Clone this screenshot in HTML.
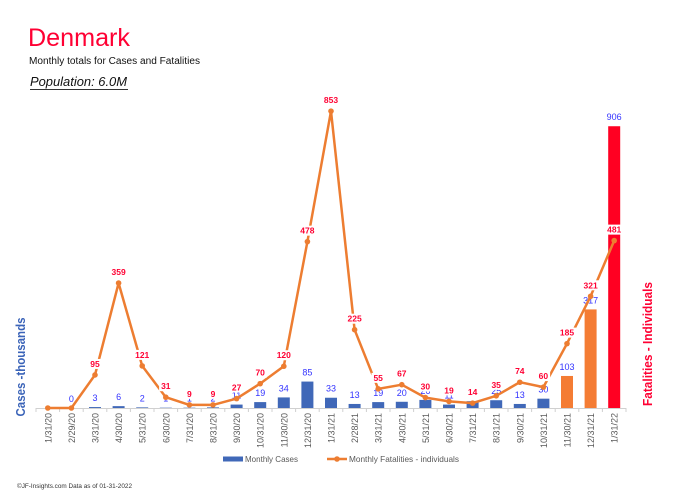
<!DOCTYPE html>
<html><head><meta charset="utf-8"><style>
html,body{margin:0;padding:0;background:#fff;}
svg{display:block;font-family:"Liberation Sans",sans-serif;}
</style></head><body>
<svg width="684" height="496" viewBox="0 0 684 496" xmlns="http://www.w3.org/2000/svg">
<rect width="684" height="496" fill="#fff"/>
<text x="28" y="46" font-size="25" fill="#FF0033" textLength="102" lengthAdjust="spacingAndGlyphs">Denmark</text>
<text x="29" y="64" font-size="10" fill="#111" textLength="171" lengthAdjust="spacingAndGlyphs">Monthly totals for Cases and Fatalities</text>
<text x="30" y="86" font-size="12.5" font-style="italic" fill="#111" textLength="97" lengthAdjust="spacingAndGlyphs">Population: 6.0M</text>
<line x1="30" y1="89.5" x2="128" y2="89.5" stroke="#333" stroke-width="1"/>

<text transform="translate(25,367) rotate(-90)" text-anchor="middle" font-size="12.5" font-weight="bold" fill="#3A63B8" textLength="99" lengthAdjust="spacingAndGlyphs">Cases -thousands</text>
<text transform="translate(652,344) rotate(-90)" text-anchor="middle" font-size="12.5" font-weight="bold" fill="#FF0033" textLength="124" lengthAdjust="spacingAndGlyphs">Fatalities - Individuals</text>

<!-- axis -->
<line x1="36" y1="408.5" x2="626" y2="408.5" stroke="#D0D0D0" stroke-width="1"/>
<g stroke="#D0D0D0" stroke-width="1" id="ticks"></g>

<g id="bars"></g>
<g id="clabels" font-size="9" fill="#3333FF" text-anchor="middle"></g>
<polyline id="fline" fill="none" stroke="#ED7D31" stroke-width="2.5" stroke-linejoin="round"/>
<g id="fmarks" fill="#ED7D31"></g>
<g id="flabels" font-size="8.5" font-weight="bold" fill="#FF0033" text-anchor="middle"></g>
<g id="xlabels" font-size="9" fill="#595959" text-anchor="end"></g>

<!-- legend -->
<rect x="223" y="456.5" width="20" height="5" fill="#4068B8"/>
<text x="245" y="462" font-size="8.5" fill="#595959" textLength="53" lengthAdjust="spacingAndGlyphs">Monthly Cases</text>
<line x1="327" y1="459" x2="347" y2="459" stroke="#ED7D31" stroke-width="2.5"/>
<circle cx="337" cy="459" r="2.8" fill="#ED7D31"/>
<text x="349" y="462" font-size="8.5" fill="#595959" textLength="110" lengthAdjust="spacingAndGlyphs">Monthly Fatalities - individuals</text>

<text x="17" y="488" font-size="6.5" fill="#333" textLength="115" lengthAdjust="spacingAndGlyphs">©JF-Insights.com  Data as of 01-31-2022</text>

<script>
(function(){
var NS="http://www.w3.org/2000/svg";
var dates=["1/31/20","2/29/20","3/31/20","4/30/20","5/31/20","6/30/20","7/31/20","8/31/20","9/30/20","10/31/20","11/30/20","12/31/20","1/31/21","2/28/21","3/31/21","4/30/21","5/31/21","6/30/21","7/31/21","8/31/21","9/30/21","10/31/21","11/30/21","12/31/21","1/31/22"];
var fat=[0,0,95,359,121,31,9,9,27,70,120,478,853,225,55,67,30,19,14,35,74,60,185,321,481];
var cas=[0,0,3,6,2,1,1,2,11,19,34,85,33,13,19,20,26,11,22,25,13,30,103,317,906];
var lab=[null,"0","3","6","2","1","1","2","11","19","34","85","33","13","19","20","26","11","22","25","13","30","103","317","906"];
function cx(i){return 36+23.6*(i+0.5);}
function yF(v){return 408-0.348*v;}
function yC(v){return 408-0.311*v;}
function el(t,a,p,txt){var e=document.createElementNS(NS,t);for(var k in a)e.setAttribute(k,a[k]);if(txt!=null)e.textContent=txt;p.appendChild(e);return e;}
var ticks=document.getElementById("ticks");
for(var i=0;i<=25;i++){var x=36+23.6*i;el("line",{x1:x,y1:408,x2:x,y2:412},ticks);}
var bars=document.getElementById("bars"),cl=document.getElementById("clabels");
for(var i=0;i<25;i++){
 var h=0.311*cas[i];var col=i<22?"#4068B8":(i<24?"#F47C34":"#FF0022");
 if(h>0)el("rect",{x:cx(i)-6,y:408-h,width:12,height:h,fill:col},bars);
 if(lab[i]!=null)el("text",{x:cx(i),y:yC(cas[i])-6},cl,lab[i]);
}
var pts=[];var fm=document.getElementById("fmarks"),fl=document.getElementById("flabels");
for(var i=0;i<25;i++){pts.push(cx(i).toFixed(1)+","+yF(fat[i]).toFixed(1));el("circle",{cx:cx(i),cy:yF(fat[i]),r:2.8},fm);}
document.getElementById("fline").setAttribute("points",pts.join(" "));
for(var i=2;i<25;i++){
 var s=String(fat[i]);var w=s.length*5.2+3;var y=yF(fat[i])-11;
 el("rect",{x:cx(i)-w/2,y:y-5,width:w,height:10,fill:"#fff"},fl);
 el("text",{x:cx(i),y:y+3},fl,s);
}
var xl=document.getElementById("xlabels");
for(var i=0;i<25;i++){el("text",{transform:"translate("+(cx(i)+3.5).toFixed(1)+",413) rotate(-90)"},xl,dates[i]);}
})();
</script>
</svg>
</body></html>
